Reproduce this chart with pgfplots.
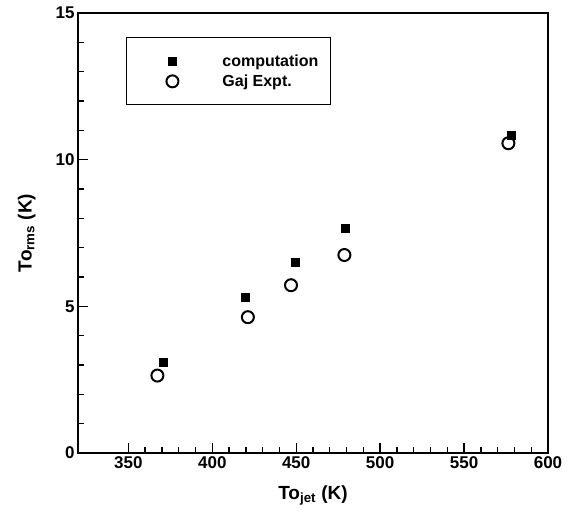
\documentclass[border=0pt]{standalone}
\usepackage{fontspec}
\setmainfont{Liberation Sans}
\usepackage{pgfplots}
\pgfplotsset{compat=1.18}
\usetikzlibrary{calc}
\begin{document}
\begin{tikzpicture}
\begin{axis}[
  scale only axis,
  width=470pt, height=440pt,
  xmin=320, xmax=600, ymin=0, ymax=15,
  xtick={350,400,450,500,550,600},
  ytick={0,5,10,15},
  minor x tick num=4,
  minor y tick num=4,
  tick pos=left,
  tick align=inside,
  major tick length=10pt,
  minor tick length=6pt,
  axis line style={line width=2pt},
  every tick/.style={line width=1.3pt, black},
  /pgf/number format/assume math mode=true,
  ticklabel style={font=\fontsize{17}{19}\selectfont\bfseries},
  xlabel={To\textsubscript{jet} (K)},
  ylabel={To\textsubscript{rms} (K)},
  label style={font=\fontsize{19}{22}\selectfont\bfseries},
  xlabel style={yshift=-10pt},
  ylabel style={yshift=13pt},
  legend style={at={(rel axis cs:0.102,0.945)}, anchor=north west,
    draw=black, line width=1pt, inner xsep=10pt, inner ysep=15pt,
    font=\fontsize{16}{18}\selectfont\bfseries, row sep=3pt,
    /tikz/every even column/.append style={column sep=0pt}},
  legend cell align=left,
  legend image code/.code={\draw[#1] plot coordinates {(35pt,0pt)};\path (0pt,0pt) (82pt,0pt);},
]
\addplot[only marks, mark=square*, mark size=4pt, black] coordinates {
  (370.5,3.08) (419.6,5.30) (449.1,6.51) (479.0,7.67) (577.8,10.84)
};
\addlegendentry{computation}
\addplot[only marks, mark=o, mark size=6pt, line width=2pt, black] coordinates {
  (367.3,2.64) (421.2,4.63) (446.9,5.72) (478.7,6.75) (576.4,10.56)
};
\addlegendentry{Gaj Expt.}
\end{axis}
\path[use as bounding box] (current axis.south west) ++(-78pt,-59pt) rectangle ($(current axis.north east)+(26pt,13pt)$);
\end{tikzpicture}
\end{document}
